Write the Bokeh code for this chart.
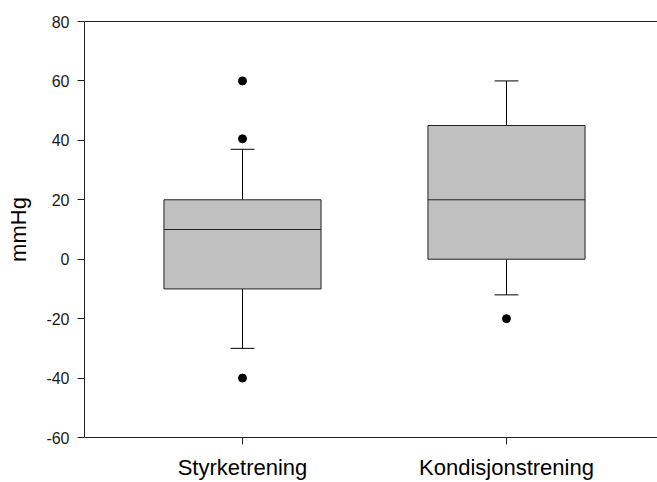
from bokeh.plotting import figure
from bokeh.models import Range1d, LinearAxis, FixedTicker, ColumnDataSource
from bokeh.embed import file_html
from bokeh.resources import INLINE

# Blood pressure change (mmHg) per training group
groups = ["Styrketrening", "Kondisjonstrening"]
q1 = [-10, 0]
median = [10, 20]
q3 = [20, 45]
whisker_low = [-30, -12]
whisker_high = [37, 60]
outlier_group = ["Styrketrening", "Styrketrening", "Styrketrening", "Kondisjonstrening"]
outlier_value = [60, 40.5, -40, -20]
y_ticks = [-60, -40, -20, 0, 20, 40, 60, 80]

FONT = "Liberation Sans"
pos = {g: i + 1 for i, g in enumerate(groups)}
xs = [pos[g] for g in groups]

p = figure(width=657, height=482, output_backend="svg", toolbar_location=None,
           x_range=Range1d(0.4015, 2.572), y_range=Range1d(-60, 80),
           min_border_left=84, min_border_top=21, min_border_bottom=45,
           min_border_right=0, x_axis_type=None, y_axis_type=None)
p.outline_line_color = None
p.grid.visible = False
p.background_fill_color = "white"
p.border_fill_color = "white"

box_w = 0.595
cap_w = 0.09

src = ColumnDataSource(dict(x=xs, q1=q1, q3=q3, med=median, lo=whisker_low, hi=whisker_high,
                            cl=[x - cap_w / 2 for x in xs], cr=[x + cap_w / 2 for x in xs],
                            bl=[x - box_w / 2 for x in xs], br=[x + box_w / 2 for x in xs]))

# whiskers and caps
p.segment("x", "q3", "x", "hi", source=src, line_color="black", line_width=1)
p.segment("x", "q1", "x", "lo", source=src, line_color="black", line_width=1)
p.segment("cl", "hi", "cr", "hi", source=src, line_color="black", line_width=1)
p.segment("cl", "lo", "cr", "lo", source=src, line_color="black", line_width=1)
# boxes and medians
p.vbar(x="x", width=box_w, top="q3", bottom="q1", source=src,
       fill_color="#c0c0c0", line_color="#222222", line_width=1)
p.segment("bl", "med", "br", "med", source=src, line_color="#222222", line_width=1)
# outliers
p.scatter([pos[g] for g in outlier_group], outlier_value, size=8,
          marker="circle", fill_color="black", line_color="black")

yax = LinearAxis(ticker=FixedTicker(ticks=y_ticks), axis_label="mmHg",
                 major_label_overrides={t: str(t) for t in y_ticks})
yax.minor_tick_line_color = None
yax.major_tick_out = 7
yax.major_tick_in = 0
yax.major_label_standoff = 8
yax.major_label_text_font = FONT
yax.major_label_text_font_size = "16px"
yax.major_label_text_color = "#1a1a1a"
yax.axis_label_text_font = FONT
yax.axis_label_text_font_size = "22px"
yax.axis_label_text_font_style = "normal"
yax.axis_label_text_color = "black"
yax.axis_label_standoff = 12
yax.axis_line_color = "#222222"
yax.major_tick_line_color = "#222222"
p.add_layout(yax, "left")

xax = LinearAxis(ticker=FixedTicker(ticks=xs),
                 major_label_overrides={pos[g]: g for g in groups})
xax.minor_tick_line_color = None
xax.major_tick_out = 7
xax.major_tick_in = 0
xax.major_label_standoff = 10
xax.major_label_text_font = FONT
xax.major_label_text_font_size = "22px"
xax.major_label_text_color = "black"
xax.axis_line_color = "#222222"
xax.major_tick_line_color = "#222222"
p.add_layout(xax, "below")

top = LinearAxis(ticker=FixedTicker(ticks=[]))
top.minor_tick_line_color = None
top.major_tick_line_color = None
top.major_label_text_font_size = "0px"
top.axis_line_color = "#222222"
p.add_layout(top, "above")

open("out.html", "w").write(file_html(p, INLINE))
